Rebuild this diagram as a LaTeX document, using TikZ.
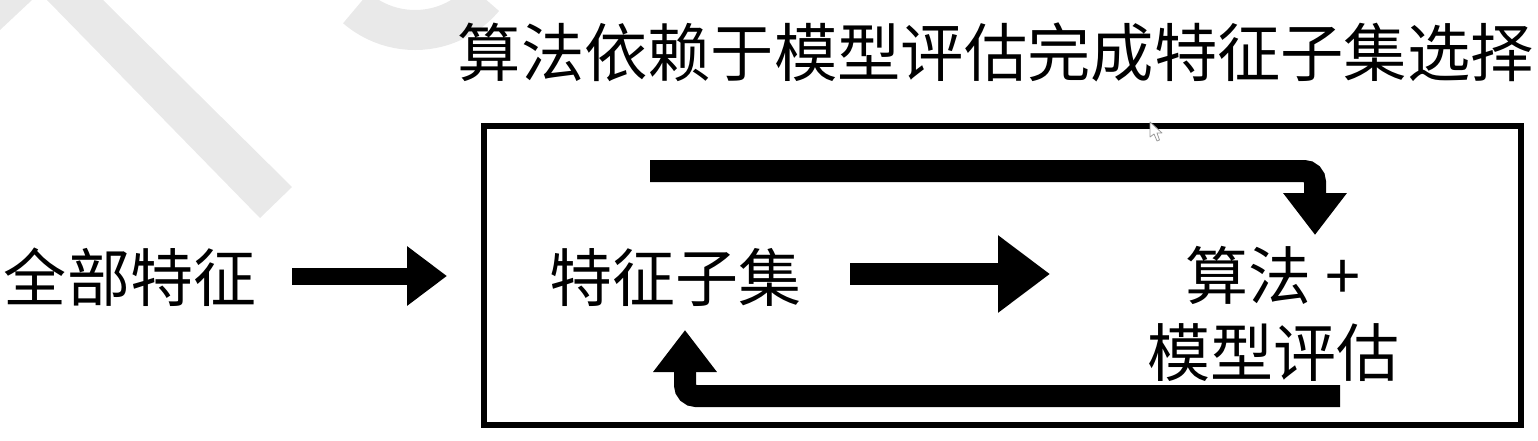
\documentclass[tikz,border=0pt]{standalone}
\usepackage{fontspec}
\setmainfont{Noto Sans CJK SC}
\usetikzlibrary{arrows.meta}
\definecolor{wm}{HTML}{E9E9E9}
\definecolor{cur}{HTML}{9A9A9A}
\tikzset{
  label62/.style={inner sep=0pt, font={\fontsize{63}{77}\selectfont}},
  bigarrow/.style={line width=22pt, -{Triangle[length=42pt,width=61pt]}},
}
\begin{document}
\begin{tikzpicture}[x=1pt,y=1pt]
\useasboundingbox (0,0) rectangle (1538,-440);
% watermark
\fill[wm] (0,0) -- (32,0) -- (0,-30) -- cycle;
\fill[wm] (47,0) -- (103,0) -- (292,-187) -- (260,-218) -- cycle;
\draw[wm, line width=40pt] ([shift={(-131:90)}]415,60) arc[start angle=-131, end angle=-40, radius=90];
% title
\node[inner sep=0pt, anchor=east, font={\fontsize{63.3}{80}\selectfont}] (title) at (1534,-52) {算法依赖于模型评估完成特征子集选择};
% frame
\node[draw, line width=6pt, minimum width=1037pt, minimum height=299pt, inner sep=0pt] (frame) at (1002.5,-275.5) {};
% labels
\node[label62] (all) at (130,-277) {全部特征};
\node[label62] (subset) at (675,-277) {特征子集};
\node[label62, align=center] (algo) at (1273,-313.5) {算法 +\\模型评估};
% arrow coordinates
\coordinate (a1s) at (292,-276);
\coordinate (a1e) at (447,-276);
\coordinate (a2s) at (850,-274);
\coordinate (a2e) at (1050,-274);
\coordinate (tops) at (650,-171);
\coordinate (topc) at (1315,-171);
\coordinate (tope) at (1315,-235);
\coordinate (bots) at (1340,-396);
\coordinate (botc) at (685,-396);
\coordinate (bote) at (685,-330);
% connectors
\draw[line width=17pt, -{Triangle[length=40pt,width=57pt]}] (a1s) -- (a1e);
\draw[line width=22pt, -{Triangle[length=52pt,width=74pt]}] (a2s) -- (a2e);
\draw[bigarrow, rounded corners=11pt] (tops) -- (topc) -- (tope);
\draw[bigarrow, rounded corners=11pt] (bots) -- (botc) -- (bote);
% cursor
\draw[cur, fill=white, line width=0.8pt, line join=round] (1150,-122) -- (1150,-137) -- (1154,-134) -- (1157,-141) -- (1159.5,-140) -- (1157,-133) -- (1162,-133) -- cycle;
\end{tikzpicture}
\end{document}
